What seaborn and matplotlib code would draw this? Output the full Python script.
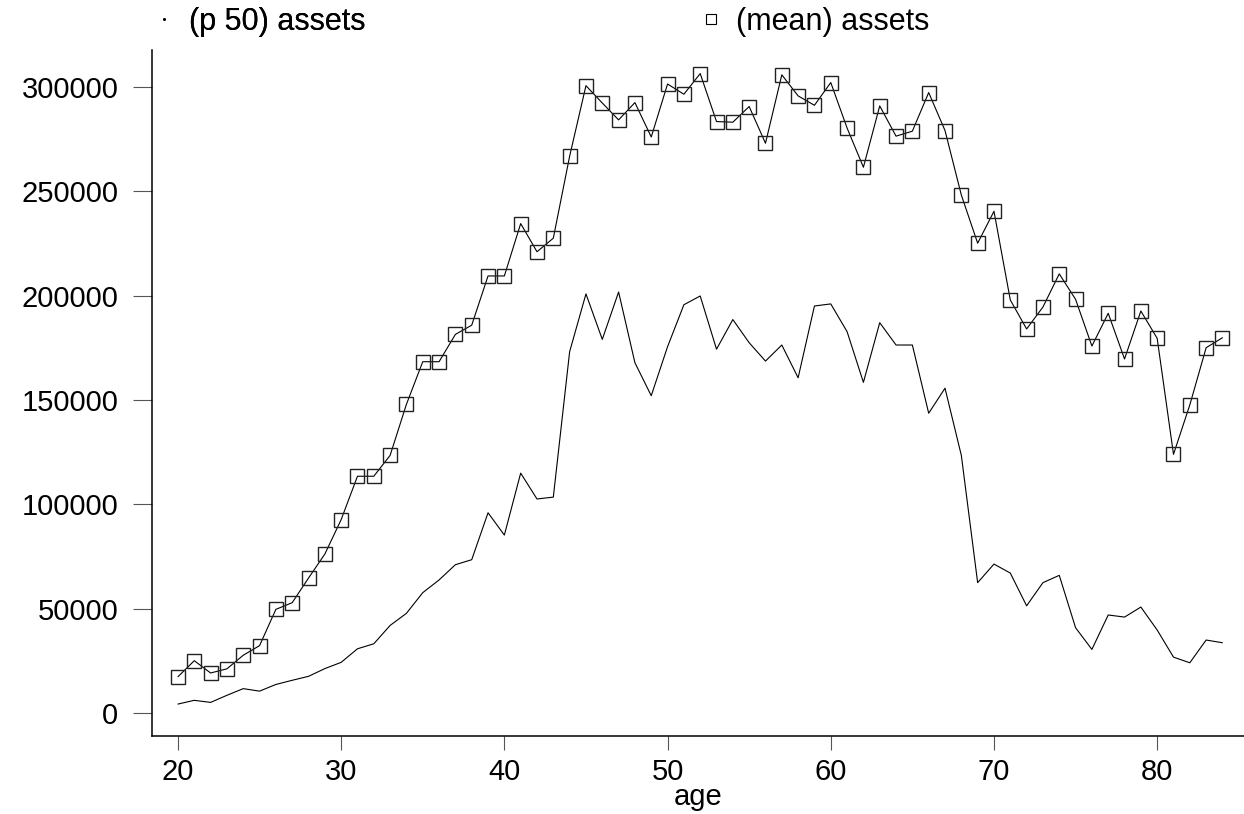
import matplotlib
matplotlib.use("Agg")
import matplotlib.pyplot as plt
from matplotlib.lines import Line2D
import seaborn as sns
import pandas as pd

ages = list(range(20, 85))

median_assets = [
    4300, 6100, 5100, 8500, 11700, 10500, 13700, 15700, 17600, 21300,
    24300, 30800, 33200, 42000, 47800, 57700, 63800, 71100, 73500, 96000,
    85300, 115000, 102600, 103500, 173200, 200900, 179100, 201800, 167900, 152100,
    175600, 195700, 199900, 174400, 188600, 177500, 168700, 176400, 160700, 195100,
    196100, 182800, 158500, 187100, 176400, 176400, 143700, 155700, 123500, 62500,
    71400, 67100, 51400, 62500, 66000, 40900, 30500, 47000, 46000, 50800,
    39800, 26800, 24100, 35000, 33700,
]

mean_assets = [
    17400, 25100, 19200, 21200, 27700, 32300, 49700, 52900, 64700, 76200,
    92700, 113500, 113500, 123500, 148000, 168400, 168400, 181500, 185900, 209500,
    209500, 234600, 221100, 227600, 266900, 300700, 292400, 284300, 292600, 276100,
    301500, 296600, 306500, 283500, 283200, 290700, 273100, 305900, 295800, 291300,
    302200, 280400, 261600, 291000, 276500, 278900, 297400, 279200, 248300, 225200,
    240500, 198000, 184100, 194600, 210500, 198300, 175900, 191600, 169700, 192700,
    179600, 124000, 147700, 175100, 179900,
]

labels = ["(p 50) assets", "(mean) assets"]
x_ticks = [20, 30, 40, 50, 60, 70, 80]
y_ticks = [0, 50000, 100000, 150000, 200000, 250000, 300000]

df = pd.DataFrame({"age": ages, "p50": median_assets, "mean": mean_assets})

sns.set_style("white")
plt.rcParams["font.family"] = ["Liberation Sans", "DejaVu Sans"]
plt.rcParams["text.color"] = "black"
plt.rcParams["axes.labelcolor"] = "black"

W, H = 1244, 814
fig = plt.figure(figsize=(W / 100, H / 100), dpi=100, facecolor="white")
ax = fig.add_axes([152 / W, 1 - 736 / H, (W - 152) / W, (736 - 50) / H])

sns.lineplot(data=df, x="age", y="p50", ax=ax, color="black", linewidth=0.8,
             estimator=None, sort=False)
sns.lineplot(data=df, x="age", y="mean", ax=ax, color="black", linewidth=0.8,
             marker="s", markersize=9.5, markerfacecolor="none",
             markeredgecolor="#222222", markeredgewidth=1.0,
             estimator=None, sort=False)

ax.set_xlim(18.41, 85.32)
ax.set_ylim(-11000, 317800)
ax.set_xticks(x_ticks)
ax.set_yticks(y_ticks)
ax.set_xticklabels([str(t) for t in x_ticks])
ax.set_yticklabels([str(t) for t in y_ticks])

for s in ["top", "right"]:
    ax.spines[s].set_visible(False)
for s in ["left", "bottom"]:
    ax.spines[s].set_color("black")
    ax.spines[s].set_linewidth(1.1)

ax.tick_params(axis="x", bottom=True, direction="out", length=10, width=0.8,
               color="#555555", pad=5.5, labelsize=21, labelcolor="black")
ax.tick_params(axis="y", left=True, direction="out", length=13.7, width=0.8,
               color="#555555", pad=10.5, labelsize=21, labelcolor="black")

ax.set_xlabel("age", fontsize=21, labelpad=-2, color="black")
ax.set_ylabel("")
ax.grid(False)

h1 = Line2D([], [], color="black", linestyle="none", marker=".", markersize=2)
h2 = Line2D([], [], color="black", linestyle="none", marker="s", markersize=7,
            markerfacecolor="none", markeredgewidth=0.8)
common = dict(loc="center left", frameon=False, borderpad=0, borderaxespad=0,
              handlelength=0.8, handletextpad=0.4, fontsize=22, labelcolor="black")
leg1 = fig.legend([h1], [labels[0]], bbox_to_anchor=(152 / W, 1 - 22 / H), **common)
fig.add_artist(leg1)
fig.legend([h2], [labels[1]], bbox_to_anchor=(699 / W, 1 - 22 / H), **common)

fig.savefig("out.png", dpi=100, facecolor="white")
